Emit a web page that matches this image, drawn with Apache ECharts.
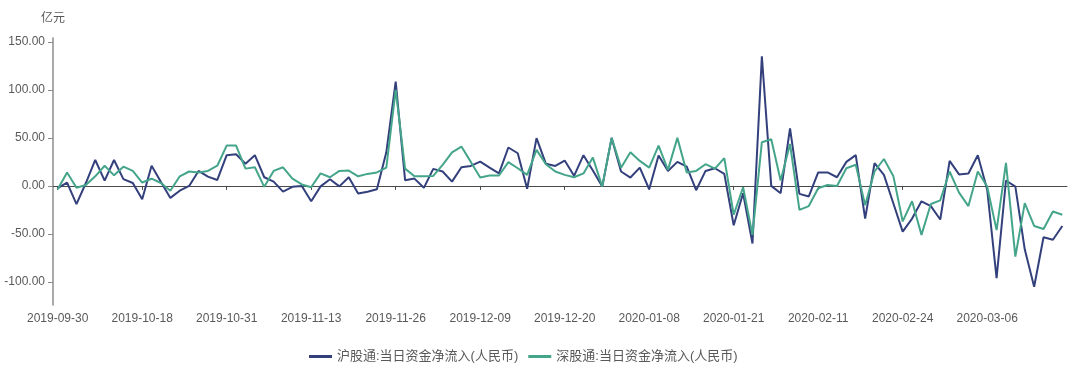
<!DOCTYPE html>
<html>
<head>
<meta charset="utf-8">
<script src="https://cdn.jsdelivr.net/npm/echarts@6/dist/echarts.min.js"></script>
<style>
html,body{margin:0;padding:0;background:#fff;}
#chart{width:1080px;height:373px;}
</style>
</head>
<body>
<div id="chart"></div>
<script>
const dates = [
'2019-09-30','2019-10-08','2019-10-09','2019-10-10','2019-10-11','2019-10-14','2019-10-15','2019-10-16','2019-10-17','2019-10-18',
'2019-10-21','2019-10-22','2019-10-23','2019-10-24','2019-10-25','2019-10-28','2019-10-29','2019-10-30','2019-10-31',
'2019-11-01','2019-11-04','2019-11-05','2019-11-06','2019-11-07','2019-11-08','2019-11-11','2019-11-12','2019-11-13',
'2019-11-14','2019-11-15','2019-11-18','2019-11-19','2019-11-20','2019-11-21','2019-11-22','2019-11-25','2019-11-26',
'2019-11-27','2019-11-28','2019-11-29','2019-12-02','2019-12-03','2019-12-04','2019-12-05','2019-12-06','2019-12-09',
'2019-12-10','2019-12-11','2019-12-12','2019-12-13','2019-12-16','2019-12-17','2019-12-18','2019-12-19','2019-12-20',
'2019-12-23','2019-12-27','2019-12-30','2019-12-31','2020-01-02','2020-01-03','2020-01-06','2020-01-07','2020-01-08',
'2020-01-09','2020-01-10','2020-01-13','2020-01-14','2020-01-15','2020-01-16','2020-01-17','2020-01-20','2020-01-21',
'2020-01-22','2020-01-23','2020-02-03','2020-02-04','2020-02-05','2020-02-06','2020-02-07','2020-02-10','2020-02-11',
'2020-02-12','2020-02-13','2020-02-14','2020-02-17','2020-02-18','2020-02-19','2020-02-20','2020-02-21','2020-02-24',
'2020-02-25','2020-02-26','2020-02-27','2020-02-28','2020-03-02','2020-03-03','2020-03-04','2020-03-05','2020-03-06',
'2020-03-09','2020-03-10','2020-03-11','2020-03-12','2020-03-13','2020-03-16','2020-03-17','2020-03-18'
];

const shName = '沪股通:当日资金净流入(人民币)';
const szName = '深股通:当日资金净流入(人民币)';

const shValues = [
-2.4,3.5,-19,3,27,5.5,27,7,3,-14,
21,4,-12.5,-5,0,15.6,9.7,6.2,32,
33,23,32,9,4.5,-6,-1,0,-16,
-0.5,7,-0.5,9,-8,-6,-3.5,35,108.7,
6,7.6,-2,17.7,15,4.5,19.4,20.8,25.3,
19,13,40,34,-3,49.7,23,20.8,26.4,
10.5,32,16,-0.7,50,15,8.7,19,-3.5,
31.6,15.6,25,20,-4.5,15.6,18.4,12.5,-41,
-7.6,-60,135,0,-7.6,60,-8.3,-11,14,
14,9,25,32,-34,23.6,11.5,-18,-47.6,
-34,-16,-21,-35,26,12,13,32,-4,
-96,5.6,-0.7,-66,-105,-53.5,-56,-41.7
];

const szValues = [
-3.5,14,-2,1,10,21,11,20,15.6,3.5,
7.5,3,-5,10,15,14,15.6,21,42,
42,18,19.4,-1,15.6,19.4,7.5,1.5,-1.4,
13,9,15.6,16,10,12.5,14,19,100,
18,10,10,10.4,22,35,41,25,8.7,
10.8,10.8,24.7,18.4,11.5,37.5,22.6,15,11.5,
9,13,29.5,-0.7,50,19,35,26,19,
42,16.7,50,14,15.6,22.6,18,29,-30,
-1.4,-51,45.5,48.6,5.6,43.7,-25,-21,-2.4,
1,0,18.4,22,-20,15,28,10.4,-37,
-16,-51,-18.8,-15,15,-7,-21,15,-0.7,
-46,24,-73.6,-18,-41.7,-44.8,-26.7,-30
];

const yTicks = [-100, -50, 0, 50, 100, 150];

const FONT = "'Liberation Sans', 'Noto Sans CJK SC', sans-serif";
const chart = echarts.init(document.getElementById('chart'), null, {renderer: 'canvas'});
chart.setOption({
  animation: false,
  textStyle: {fontFamily: FONT},
  color: ['#33407c', '#45a58b'],
  grid: {left: 53, right: 13, top: 38, bottom: 68, containLabel: false, outerBoundsMode: 'none'},
  legend: {
    top: 345,
    left: 304,
    icon: 'rect',
    itemWidth: 23,
    itemHeight: 3,
    itemGap: 10,
    textStyle: {color: '#595959', fontSize: 13, fontFamily: FONT},
    data: [shName, szName]
  },
  xAxis: [
    {
      type: 'category',
      data: dates,
      boundaryGap: true,
      position: 'bottom',
      axisLine: {show: false, onZero: false},
      axisTick: {show: false},
      axisLabel: {interval: 8, color: '#595959', fontSize: 12, fontFamily: FONT, margin: 8},
      splitLine: {show: false}
    },
    {
      type: 'category',
      data: dates,
      boundaryGap: true,
      position: 'bottom',
      axisLine: {show: true, onZero: true, lineStyle: {color: '#4a4a4a', width: 1}},
      axisTick: {show: true, interval: 8, alignWithLabel: true, length: 4, lineStyle: {color: '#4a4a4a'}},
      axisLabel: {show: false},
      splitLine: {show: false}
    }
  ],
  yAxis: {
    type: 'value',
    min: -124,
    max: 154,
    name: '亿元',
    nameGap: 13,
    nameTextStyle: {color: '#595959', fontSize: 12, fontFamily: FONT},
    axisLine: {show: true, lineStyle: {color: '#8c8c8c', width: 1.5}},
    axisTick: {show: true, customValues: yTicks, length: 5, lineStyle: {color: '#8c8c8c'}},
    axisLabel: {
      customValues: yTicks,
      color: '#595959',
      fontSize: 12,
      fontFamily: FONT,
      formatter: v => Number(v).toFixed(2)
    },
    splitLine: {show: false}
  },
  series: [
    {
      name: shName,
      type: 'line',
      xAxisIndex: 0,
      data: shValues,
      symbol: 'none',
      smooth: false,
      lineStyle: {width: 2}
    },
    {
      name: szName,
      type: 'line',
      xAxisIndex: 0,
      data: szValues,
      symbol: 'none',
      smooth: false,
      lineStyle: {width: 2}
    }
  ]
});
</script>
</body>
</html>
